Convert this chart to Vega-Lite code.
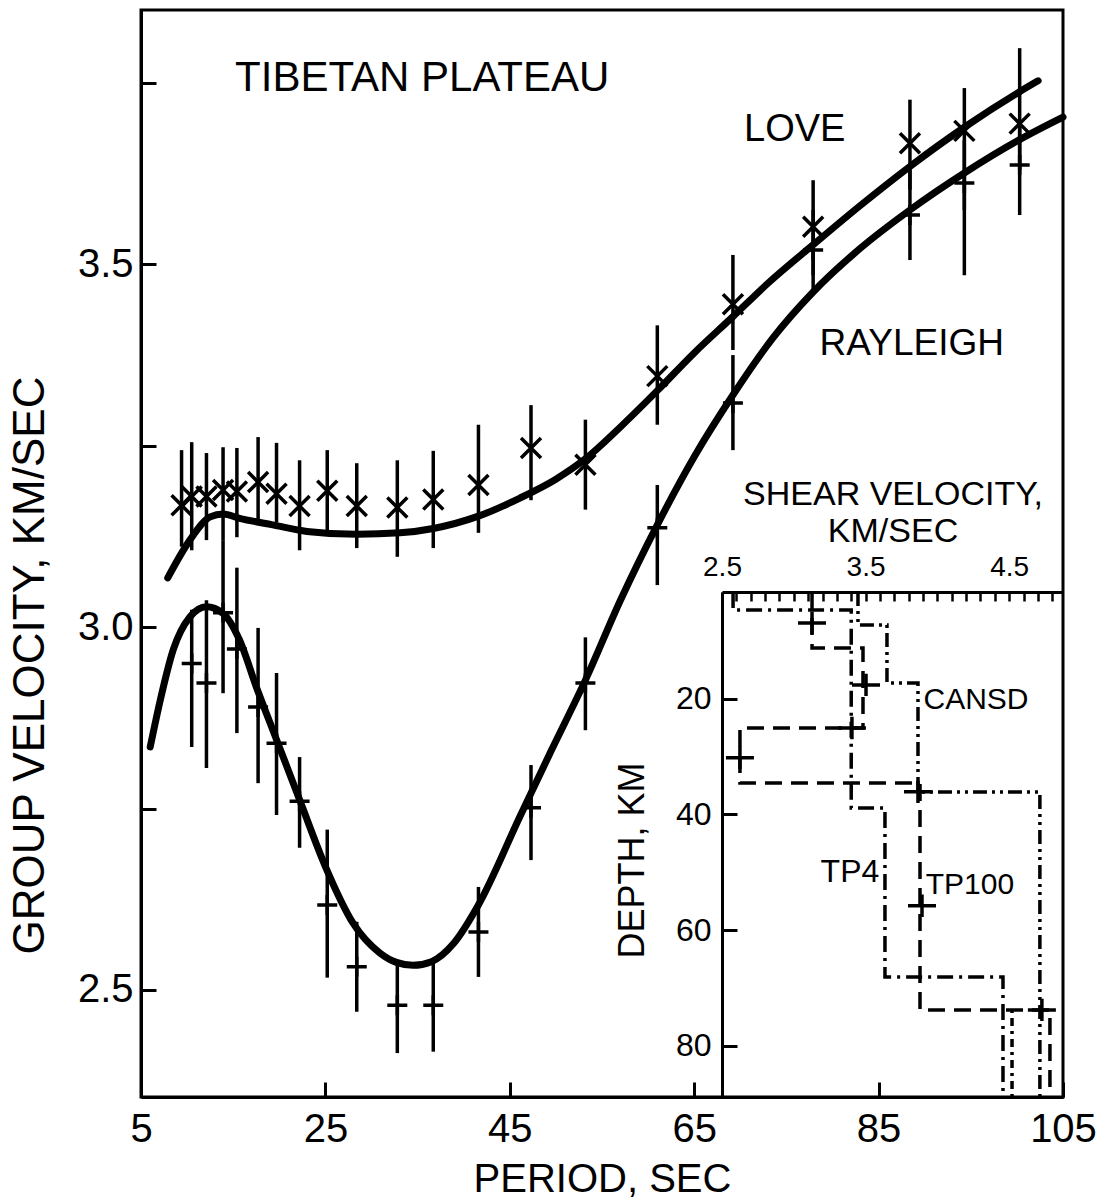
{
  "$schema": "https://vega.github.io/schema/vega-lite/v6.json",
  "width": 922,
  "height": 1087,
  "autosize": {"type": "none"},
  "padding": {"left": 141, "top": 10, "right": 47, "bottom": 106},
  "background": "white",
  "config": {
    "font": "Liberation Sans",
    "view": {"stroke": "black", "strokeWidth": 3},
    "axis": {"grid": false, "domainColor": "black", "tickColor": "black", "labelColor": "black", "titleColor": "black", "titleFontWeight": "normal", "labelFont": "Liberation Sans", "titleFont": "Liberation Sans"},
    "text": {"font": "Liberation Sans", "color": "black"}
  },
  "datasets": {
    "obs": [
      {"w": "Love", "p": 9.4, "v": 3.168, "lo": 3.111, "hi": 3.244},
      {"w": "Love", "p": 10.5, "v": 3.18, "lo": 3.106, "hi": 3.255},
      {"w": "Love", "p": 12.1, "v": 3.18, "lo": 3.12, "hi": 3.24},
      {"w": "Love", "p": 13.9, "v": 3.189, "lo": 3.12, "hi": 3.248},
      {"w": "Love", "p": 15.4, "v": 3.187, "lo": 3.124, "hi": 3.247},
      {"w": "Love", "p": 17.7, "v": 3.2, "lo": 3.148, "hi": 3.262},
      {"w": "Love", "p": 19.7, "v": 3.184, "lo": 3.144, "hi": 3.254},
      {"w": "Love", "p": 22.2, "v": 3.167, "lo": 3.106, "hi": 3.23},
      {"w": "Love", "p": 25.2, "v": 3.188, "lo": 3.131, "hi": 3.244},
      {"w": "Love", "p": 28.4, "v": 3.167, "lo": 3.109, "hi": 3.226},
      {"w": "Love", "p": 32.8, "v": 3.165, "lo": 3.097, "hi": 3.23},
      {"w": "Love", "p": 36.7, "v": 3.176, "lo": 3.109, "hi": 3.243},
      {"w": "Love", "p": 41.6, "v": 3.196, "lo": 3.13, "hi": 3.279},
      {"w": "Love", "p": 47.3, "v": 3.247, "lo": 3.175, "hi": 3.306},
      {"w": "Love", "p": 53.2, "v": 3.224, "lo": 3.162, "hi": 3.286},
      {"w": "Love", "p": 61.0, "v": 3.346, "lo": 3.279, "hi": 3.416},
      {"w": "Love", "p": 69.2, "v": 3.445, "lo": 3.382, "hi": 3.513},
      {"w": "Love", "p": 77.9, "v": 3.552, "lo": 3.485, "hi": 3.616},
      {"w": "Love", "p": 88.4, "v": 3.667, "lo": 3.603, "hi": 3.727},
      {"w": "Love", "p": 94.3, "v": 3.684, "lo": 3.575, "hi": 3.743},
      {"w": "Love", "p": 100.3, "v": 3.694, "lo": 3.63, "hi": 3.798},
      {"w": "Rayleigh", "p": 10.5, "v": 2.95, "lo": 2.835, "hi": 3.024},
      {"w": "Rayleigh", "p": 12.1, "v": 2.923, "lo": 2.806, "hi": 3.037},
      {"w": "Rayleigh", "p": 13.9, "v": 3.02, "lo": 2.909, "hi": 3.12},
      {"w": "Rayleigh", "p": 15.4, "v": 2.97, "lo": 2.854, "hi": 3.082},
      {"w": "Rayleigh", "p": 17.7, "v": 2.89, "lo": 2.785, "hi": 2.999},
      {"w": "Rayleigh", "p": 19.7, "v": 2.84, "lo": 2.741, "hi": 2.937},
      {"w": "Rayleigh", "p": 22.2, "v": 2.76, "lo": 2.696, "hi": 2.821},
      {"w": "Rayleigh", "p": 25.2, "v": 2.617, "lo": 2.517, "hi": 2.721},
      {"w": "Rayleigh", "p": 28.4, "v": 2.532, "lo": 2.47, "hi": 2.594},
      {"w": "Rayleigh", "p": 32.8, "v": 2.479, "lo": 2.413, "hi": 2.534},
      {"w": "Rayleigh", "p": 36.7, "v": 2.479, "lo": 2.415, "hi": 2.537},
      {"w": "Rayleigh", "p": 41.6, "v": 2.58, "lo": 2.518, "hi": 2.642},
      {"w": "Rayleigh", "p": 47.3, "v": 2.751, "lo": 2.679, "hi": 2.81},
      {"w": "Rayleigh", "p": 53.2, "v": 2.923, "lo": 2.858, "hi": 2.986},
      {"w": "Rayleigh", "p": 61.0, "v": 3.137, "lo": 3.058, "hi": 3.196},
      {"w": "Rayleigh", "p": 69.2, "v": 3.309, "lo": 3.244, "hi": 3.375},
      {"w": "Rayleigh", "p": 77.9, "v": 3.52, "lo": 3.458, "hi": 3.575},
      {"w": "Rayleigh", "p": 88.4, "v": 3.568, "lo": 3.506, "hi": 3.63},
      {"w": "Rayleigh", "p": 94.3, "v": 3.612, "lo": 3.485, "hi": 3.671},
      {"w": "Rayleigh", "p": 100.3, "v": 3.637, "lo": 3.568, "hi": 3.699}
    ],
    "curves": [
      {"w": "Love", "p": 7.9, "v": 3.068},
      {"w": "Love", "p": 10.3, "v": 3.12},
      {"w": "Love", "p": 12.5, "v": 3.152},
      {"w": "Love", "p": 13.9, "v": 3.156},
      {"w": "Love", "p": 15.7, "v": 3.15},
      {"w": "Love", "p": 19.3, "v": 3.141},
      {"w": "Love", "p": 23.0, "v": 3.132},
      {"w": "Love", "p": 28.4, "v": 3.128},
      {"w": "Love", "p": 33.1, "v": 3.13},
      {"w": "Love", "p": 36.7, "v": 3.136},
      {"w": "Love", "p": 41.6, "v": 3.153},
      {"w": "Love", "p": 46.1, "v": 3.178},
      {"w": "Love", "p": 50.0, "v": 3.204},
      {"w": "Love", "p": 53.2, "v": 3.232},
      {"w": "Love", "p": 57.0, "v": 3.276},
      {"w": "Love", "p": 61.0, "v": 3.326},
      {"w": "Love", "p": 65.0, "v": 3.378},
      {"w": "Love", "p": 69.2, "v": 3.428},
      {"w": "Love", "p": 73.0, "v": 3.474},
      {"w": "Love", "p": 77.9, "v": 3.527},
      {"w": "Love", "p": 83.0, "v": 3.581},
      {"w": "Love", "p": 88.4, "v": 3.635},
      {"w": "Love", "p": 94.3, "v": 3.689},
      {"w": "Love", "p": 100.3, "v": 3.738},
      {"w": "Love", "p": 102.3, "v": 3.753},
      {"w": "Rayleigh", "p": 6.0, "v": 2.835},
      {"w": "Rayleigh", "p": 7.1, "v": 2.9},
      {"w": "Rayleigh", "p": 8.5, "v": 2.969},
      {"w": "Rayleigh", "p": 10.3, "v": 3.014},
      {"w": "Rayleigh", "p": 12.1, "v": 3.028},
      {"w": "Rayleigh", "p": 13.9, "v": 3.019},
      {"w": "Rayleigh", "p": 15.7, "v": 2.982},
      {"w": "Rayleigh", "p": 17.5, "v": 2.918},
      {"w": "Rayleigh", "p": 19.7, "v": 2.845},
      {"w": "Rayleigh", "p": 22.2, "v": 2.762},
      {"w": "Rayleigh", "p": 25.0, "v": 2.67},
      {"w": "Rayleigh", "p": 28.0, "v": 2.592},
      {"w": "Rayleigh", "p": 30.9, "v": 2.551},
      {"w": "Rayleigh", "p": 32.7, "v": 2.538},
      {"w": "Rayleigh", "p": 34.5, "v": 2.534},
      {"w": "Rayleigh", "p": 36.5, "v": 2.539},
      {"w": "Rayleigh", "p": 38.9, "v": 2.564},
      {"w": "Rayleigh", "p": 41.5, "v": 2.615},
      {"w": "Rayleigh", "p": 46.1, "v": 2.739},
      {"w": "Rayleigh", "p": 49.5, "v": 2.83},
      {"w": "Rayleigh", "p": 53.2, "v": 2.927},
      {"w": "Rayleigh", "p": 57.0, "v": 3.037},
      {"w": "Rayleigh", "p": 61.0, "v": 3.141},
      {"w": "Rayleigh", "p": 65.1, "v": 3.237},
      {"w": "Rayleigh", "p": 69.2, "v": 3.32},
      {"w": "Rayleigh", "p": 73.5, "v": 3.398},
      {"w": "Rayleigh", "p": 77.9, "v": 3.462},
      {"w": "Rayleigh", "p": 83.0, "v": 3.522},
      {"w": "Rayleigh", "p": 88.4, "v": 3.575},
      {"w": "Rayleigh", "p": 94.3, "v": 3.626},
      {"w": "Rayleigh", "p": 100.3, "v": 3.672},
      {"w": "Rayleigh", "p": 105.0, "v": 3.703}
    ],
    "profiles": [
      {"m": "CANSD", "o": 1, "vs": 3.447, "d": 1.54},
      {"m": "CANSD", "o": 2, "vs": 3.447, "d": 7.25},
      {"m": "CANSD", "o": 3, "vs": 3.649, "d": 7.25},
      {"m": "CANSD", "o": 4, "vs": 3.649, "d": 17.27},
      {"m": "CANSD", "o": 5, "vs": 3.865, "d": 17.27},
      {"m": "CANSD", "o": 6, "vs": 3.865, "d": 36.12},
      {"m": "CANSD", "o": 7, "vs": 4.714, "d": 36.12},
      {"m": "CANSD", "o": 8, "vs": 4.714, "d": 88.86},
      {"m": "TP4", "o": 1, "vs": 2.577, "d": 1.54},
      {"m": "TP4", "o": 2, "vs": 2.577, "d": 4.65},
      {"m": "TP4", "o": 3, "vs": 3.4, "d": 4.65},
      {"m": "TP4", "o": 4, "vs": 3.4, "d": 38.89},
      {"m": "TP4", "o": 5, "vs": 3.635, "d": 38.89},
      {"m": "TP4", "o": 6, "vs": 3.635, "d": 68.1},
      {"m": "TP4", "o": 7, "vs": 4.457, "d": 68.1},
      {"m": "TP4", "o": 8, "vs": 4.457, "d": 88.86},
      {"m": "TP100", "o": 1, "vs": 3.127, "d": 1.54},
      {"m": "TP100", "o": 2, "vs": 3.127, "d": 11.22},
      {"m": "TP100", "o": 3, "vs": 3.482, "d": 11.22},
      {"m": "TP100", "o": 4, "vs": 3.482, "d": 25.06},
      {"m": "TP100", "o": 5, "vs": 2.625, "d": 25.06},
      {"m": "TP100", "o": 6, "vs": 2.625, "d": 34.56},
      {"m": "TP100", "o": 7, "vs": 3.879, "d": 34.56},
      {"m": "TP100", "o": 8, "vs": 3.879, "d": 73.8},
      {"m": "TP100", "o": 9, "vs": 4.784, "d": 73.8},
      {"m": "TP100", "o": 10, "vs": 4.784, "d": 88.86},
      {"m": "other", "o": 1, "vs": 4.52, "d": 73.8},
      {"m": "other", "o": 2, "vs": 4.52, "d": 88.86}
    ],
    "crosses": [
      {"vs": 3.127, "d": 6.9},
      {"vs": 3.503, "d": 17.6},
      {"vs": 2.625, "d": 30.2},
      {"vs": 3.893, "d": 55.8},
      {"vs": 3.405, "d": 25.06},
      {"vs": 3.865, "d": 36.1},
      {"vs": 4.728, "d": 73.8}
    ],
    "one": [{"k": 1}]
  },
  "layer": [
    {
      "layer": [
        {
          "data": {"name": "obs"},
          "mark": {"type": "rule", "strokeWidth": 3.5, "color": "black"},
          "encoding": {
            "x": {"field": "p", "type": "quantitative", "scale": {"domain": [5, 105], "nice": false, "zero": false},
              "axis": {"orient": "bottom", "values": [5, 25, 45, 65, 85, 105], "format": "d", "title": "PERIOD, SEC", "tickSize": -15, "tickWidth": 3, "domainWidth": 3, "labelFontSize": 40, "labelPadding": 27, "titleFontSize": 40, "titlePadding": 10, "labelFlush": false, "labelOverlap": false}},
            "y": {"field": "lo", "type": "quantitative", "scale": {"domain": [2.3525, 3.8506], "nice": false, "zero": false},
              "axis": {"orient": "left", "values": [2.5, 2.75, 3, 3.25, 3.5, 3.75], "labelExpr": "datum.value == 2.5 || datum.value == 3 || datum.value == 3.5 ? format(datum.value, '.1f') : ''", "title": "GROUP VELOCITY, KM/SEC", "tickSize": -15, "tickWidth": 3, "domainWidth": 3, "labelFontSize": 40, "labelPadding": 23, "titleFontSize": 44, "titleX": -111, "titleY": 655, "titleAngle": -90, "titleBaseline": "middle", "titleAlign": "center", "labelOverlap": false}},
            "y2": {"field": "hi"}
          }
        },
        {
          "data": {"name": "obs"},
          "mark": {"type": "point", "filled": false, "strokeWidth": 3.5, "color": "black", "opacity": 1},
          "encoding": {
            "x": {"field": "p", "type": "quantitative", "scale": {"domain": [5, 105], "nice": false, "zero": false}},
            "y": {"field": "v", "type": "quantitative", "scale": {"domain": [2.3525, 3.8506], "nice": false, "zero": false}},
            "shape": {"field": "w", "type": "nominal", "scale": {"domain": ["Love", "Rayleigh"], "range": ["M-1,-1L1,1M-1,1L1,-1", "M-1,0L1,0M0,-1L0,1"]}, "legend": null},
            "size": {"value": 400}
          }
        },
        {
          "data": {"name": "curves"},
          "mark": {"type": "line", "strokeWidth": 7, "color": "black", "interpolate": "monotone", "strokeCap": "round"},
          "encoding": {
            "x": {"field": "p", "type": "quantitative", "scale": {"domain": [5, 105], "nice": false, "zero": false}},
            "y": {"field": "v", "type": "quantitative", "scale": {"domain": [2.3525, 3.8506], "nice": false, "zero": false}},
            "detail": {"field": "w", "type": "nominal"}
          }
        },
        {
          "data": {"name": "one"},
          "mark": {"type": "text", "fontSize": 42, "align": "center", "baseline": "middle"},
          "encoding": {
            "x": {"datum": 35.5, "type": "quantitative"},
            "y": {"datum": 3.757, "type": "quantitative"},
            "text": {"value": "TIBETAN PLATEAU"}
          }
        },
        {
          "data": {"name": "one"},
          "mark": {"type": "text", "fontSize": 38, "align": "center", "baseline": "middle"},
          "encoding": {
            "x": {"datum": 75.9, "type": "quantitative"},
            "y": {"datum": 3.685, "type": "quantitative"},
            "text": {"value": "LOVE"}
          }
        },
        {
          "data": {"name": "one"},
          "mark": {"type": "text", "fontSize": 37, "align": "center", "baseline": "middle"},
          "encoding": {
            "x": {"datum": 88.6, "type": "quantitative"},
            "y": {"datum": 3.39, "type": "quantitative"},
            "text": {"value": "RAYLEIGH"}
          }
        }
      ]
    },
    {
      "layer": [
        {
          "data": {"name": "profiles"},
          "mark": {"type": "line", "strokeWidth": 3.5, "color": "black", "interpolate": "linear"},
          "encoding": {
            "x": {"field": "vs", "type": "quantitative", "scale": {"domain": [2.5, 4.875], "range": [581, 922], "nice": false, "zero": false},
              "axis": {"orient": "top", "offset": -582, "values": [2.5, 2.6, 2.7, 2.8, 2.9, 3.0, 3.1, 3.2, 3.3, 3.4, 3.5, 3.6, 3.7, 3.8, 3.9, 4.0, 4.1, 4.2, 4.3, 4.4, 4.5, 4.6, 4.7, 4.8], "labelExpr": "datum.value == 2.5 || datum.value == 3.5 || datum.value == 4.5 ? format(datum.value, '.1f') : ''", "tickSize": -9, "tickWidth": 2.5, "domainWidth": 3, "labelFontSize": 28, "labelPadding": 20, "labelFlush": false, "labelOverlap": false, "title": ["SHEAR VELOCITY,", "KM/SEC"], "titleFontSize": 34, "titleLineHeight": 37, "titleBaseline": "bottom", "titleY": -81}},
            "y": {"field": "d", "type": "quantitative", "scale": {"domain": [1.54, 88.86], "range": [582, 1087], "nice": false, "zero": false},
              "axis": {"orient": "left", "offset": -581, "values": [20, 40, 60, 80], "tickSize": -15, "tickWidth": 3, "domainWidth": 3, "labelFontSize": 32, "labelPadding": 26, "labelOverlap": false, "title": "DEPTH, KM", "titleFontSize": 36, "titleX": -90, "titleY": 850, "titleAngle": -90, "titleBaseline": "middle", "titleAlign": "center"}},
            "order": {"field": "o", "type": "quantitative"},
            "detail": {"field": "m", "type": "nominal"},
            "strokeDash": {"field": "m", "type": "nominal", "scale": {"domain": ["CANSD", "TP4", "TP100", "other"], "range": [[14, 5, 3, 5, 3, 5], [16, 6, 3, 6], [17, 9], [3, 5, 8, 5]]}, "legend": null}
          }
        },
        {
          "data": {"name": "crosses"},
          "mark": {"type": "point", "filled": false, "strokeWidth": 3.5, "color": "black", "opacity": 1, "shape": "M-1,0L1,0M0,-0.8L0,0.8", "size": 784},
          "encoding": {
            "x": {"field": "vs", "type": "quantitative", "scale": {"domain": [2.5, 4.875], "range": [581, 922], "nice": false, "zero": false}},
            "y": {"field": "d", "type": "quantitative", "scale": {"domain": [1.54, 88.86], "range": [582, 1087], "nice": false, "zero": false}}
          }
        },
        {
          "data": {"name": "one"},
          "mark": {"type": "text", "fontSize": 30, "align": "center", "baseline": "middle"},
          "encoding": {
            "x": {"datum": 4.269, "type": "quantitative"},
            "y": {"datum": 20.2, "type": "quantitative"},
            "text": {"value": "CANSD"}
          }
        },
        {
          "data": {"name": "one"},
          "mark": {"type": "text", "fontSize": 32, "align": "center", "baseline": "middle"},
          "encoding": {
            "x": {"datum": 3.391, "type": "quantitative"},
            "y": {"datum": 50.0, "type": "quantitative"},
            "text": {"value": "TP4"}
          }
        },
        {
          "data": {"name": "one"},
          "mark": {"type": "text", "fontSize": 30, "align": "center", "baseline": "middle"},
          "encoding": {
            "x": {"datum": 4.227, "type": "quantitative"},
            "y": {"datum": 52.2, "type": "quantitative"},
            "text": {"value": "TP100"}
          }
        }
      ]
    }
  ],
  "resolve": {"scale": {"x": "independent", "y": "independent"}, "axis": {"x": "independent", "y": "independent"}}
}
